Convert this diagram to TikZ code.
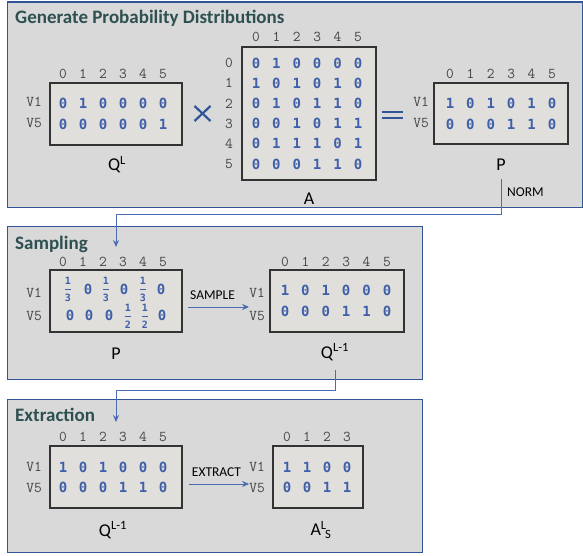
\documentclass[tikz,border=0pt]{standalone}
\usepackage{fontspec}
\setmainfont{Carlito}
\newfontfamily\digf{DejaVu Sans Mono}
\usetikzlibrary{arrows.meta}
\definecolor{panelfill}{HTML}{D9D9D9}
\definecolor{panelline}{HTML}{2F5597}
\definecolor{boxfill}{HTML}{E0DFDB}
\definecolor{boxline}{HTML}{333333}
\definecolor{digit}{HTML}{3F5FAA}
\definecolor{hdr}{HTML}{454545}
\definecolor{ttl}{HTML}{2E5050}
\definecolor{conncol}{HTML}{4A6CB4}
\newcommand\fr[2]{$\displaystyle{\mbox{\fontsize{10}{10}\selectfont\bfseries #1}\above 1.4pt\mbox{\fontsize{10}{10}\selectfont\bfseries #2}}$}
\begin{document}
\begin{tikzpicture}[x=1pt,y=-1pt,
  panel/.style={draw=panelline, fill=panelfill, line width=1.2pt, anchor=north west, inner sep=0},
  matbox/.style={draw=boxline, fill=boxfill, line width=2.4pt, inner sep=0},
  dig/.style={font=\digf\bfseries\fontsize{14}{14}\selectfont, text=digit, inner sep=0},
  frc/.style={font=\digf, text=digit, inner sep=0},
  hd/.style={font=\ttfamily\fontsize{15}{15}\selectfont, text=hdr, inner sep=0},
  ttlstyle/.style={font=\bfseries\fontsize{19}{19}\selectfont, text=ttl, anchor=base west, inner sep=0},
  lbl/.style={font=\fontsize{18}{18}\selectfont, inner sep=0},
  opname/.style={font=\fontsize{13.5}{14}\selectfont, inner sep=0},
  conn/.style={draw=conncol, line width=1pt},
  arr/.style={conn, -{Stealth[length=7pt,width=6pt]}},
  sym/.style={draw=panelline, line width=2.6pt}
]
\useasboundingbox (0,0) rectangle (583,556);

% ---------------- Panel 1 ----------------
\node[panel, minimum width=575pt, minimum height=205.5pt] (p1) at (7,1.5) {};
\node[ttlstyle] (t1) at (15,24) {Generate Probability Distributions};

% Q^L
\node[matbox, minimum width=132pt, minimum height=62pt] (qL) at (116,114) {};
\foreach \i in {0,...,5} \node[hd] (qLh\i) at ({63+20*\i},74) {\i};
\node[hd] (qLv1) at (34,102) {V1};
\node[hd] (qLv5) at (34,123) {V5};
\def\rowA{0,1,0,0,0,0}\def\rowB{0,0,0,0,0,1}
\foreach \v [count=\i from 0] in \rowA \node[dig] (qLa\i) at ({63+20*\i},103) {\v};
\foreach \v [count=\i from 0] in \rowB \node[dig] (qLb\i) at ({63+20*\i},124) {\v};
\node[lbl] (lblQL) at (117,165) {Q\textsuperscript{L}};

% times
\coordinate (x1) at (194.5,106);
\coordinate (x2) at (210.5,121);
\coordinate (x3) at (194.5,121);
\coordinate (x4) at (210.5,106);
\draw[sym, line width=2.2pt] (x1) -- (x2) (x3) -- (x4);

% A
\node[matbox, minimum width=134pt, minimum height=133pt] (mA) at (309,113.5) {};
\foreach \i in {0,...,5} \node[hd] (mAh\i) at ({256+20.4*\i},37) {\i};
\foreach \j in {0,...,5} \node[hd] (mAr\j) at (229,{63+20.2*\j}) {\j};
\foreach \rw [count=\j from 0] in {{0,1,0,0,0,0},{1,0,1,0,1,0},{0,1,0,1,1,0},{0,0,1,0,1,1},{0,1,1,1,0,1},{0,0,0,1,1,0}}{
  \foreach \v [count=\i from 0] in \rw \node[dig] (mA-\j-\i) at ({256+20.4*\i},{63+20.2*\j}) {\v};
}
\node[lbl] (lblA) at (309,199) {A};

% equals
\coordinate (e1) at (382,112.5);
\coordinate (e2) at (403,112.5);
\coordinate (e3) at (382,118.5);
\coordinate (e4) at (403,118.5);
\draw[sym, line width=2pt] (e1) -- (e2) (e3) -- (e4);

% P
\node[matbox, minimum width=134pt, minimum height=61pt] (mP) at (501,113.5) {};
\foreach \i in {0,...,5} \node[hd] (mPh\i) at ({450+20.4*\i},74) {\i};
\node[hd] (mPv1) at (421,102) {V1};
\node[hd] (mPv5) at (421,123) {V5};
\def\pA{1,0,1,0,1,0}\def\pB{0,0,0,1,1,0}
\foreach \v [count=\i from 0] in \pA \node[dig] (mPa\i) at ({450+20.4*\i},103) {\v};
\foreach \v [count=\i from 0] in \pB \node[dig] (mPb\i) at ({450+20.4*\i},124) {\v};
\node[lbl] (lblP) at (501,165) {P};

% ---------------- Panel 2 ----------------
\node[panel, minimum width=415pt, minimum height=153pt] (p2) at (7,226) {};
\node[ttlstyle] (t2) at (15,249) {Sampling};

\node[matbox, minimum width=132pt, minimum height=62pt] (sP) at (116,301) {};
\foreach \i in {0,...,5} \node[hd] (sPh\i) at ({63+20*\i},262) {\i};
\node[hd] (sPv1) at (34,293) {V1};
\node[hd] (sPv5) at (34,316) {V5};
\node[frc] (sPa0) at (68,289.5) {\fr{1}{3}};
\node[dig] (sPa1) at (88,289) {0};
\node[frc] (sPa2) at (106,289.5) {\fr{1}{3}};
\node[dig] (sPa3) at (124,289) {0};
\node[frc] (sPa4) at (143,289.5) {\fr{1}{3}};
\node[dig] (sPa5) at (161,289) {0};
\node[dig] (sPb0) at (70,315) {0};
\node[dig] (sPb1) at (89,315) {0};
\node[dig] (sPb2) at (109,315) {0};
\node[frc] (sPb3) at (128,316.5) {\fr{1}{2}};
\node[frc] (sPb4) at (145,316.5) {\fr{1}{2}};
\node[dig] (sPb5) at (162,315) {0};
\node[lbl] (lblsP) at (116,354) {P};

\node[opname] (sample) at (212.5,295) {SAMPLE};

\node[matbox, minimum width=134pt, minimum height=62pt] (sQ) at (337,301) {};
\foreach \i in {0,...,5} \node[hd] (sQh\i) at ({285+20.4*\i},262) {\i};
\node[hd] (sQv1) at (257,293) {V1};
\node[hd] (sQv5) at (257,316) {V5};
\def\qA{1,0,1,0,0,0}\def\qB{0,0,0,1,1,0}
\foreach \v [count=\i from 0] in \qA \node[dig] (sQa\i) at ({285+20.4*\i},290) {\v};
\foreach \v [count=\i from 0] in \qB \node[dig] (sQb\i) at ({285+20.4*\i},311) {\v};
\node[lbl] (lblQ2) at (335,352) {Q\textsuperscript{L-1}};

\draw[arr] (sP.east |- 0,307) ++(5,0) coordinate (sa1) (sa1) -- (sa1 -| sQv5.west) ;

% ---------------- Panel 3 ----------------
\node[panel, minimum width=415pt, minimum height=153pt] (p3) at (7,399) {};
\node[ttlstyle] (t3) at (15,421) {Extraction};

\node[matbox, minimum width=132pt, minimum height=62pt] (eQ) at (116,477) {};
\foreach \i in {0,...,5} \node[hd] (eQh\i) at ({63+20*\i},437) {\i};
\node[hd] (eQv1) at (34,467) {V1};
\node[hd] (eQv5) at (34,488) {V5};
\foreach \v [count=\i from 0] in \qA \node[dig] (eQa\i) at ({63+20*\i},467) {\v};
\foreach \v [count=\i from 0] in \qB \node[dig] (eQb\i) at ({63+20*\i},487) {\v};
\node[lbl] (lblQ3) at (113,530) {Q\textsuperscript{L-1}};

\node[opname] (extract) at (216.5,472) {EXTRACT};

\node[matbox, minimum width=90pt, minimum height=62pt] (eA) at (318,477) {};
\foreach \i in {0,...,3} \node[hd] (eAh\i) at ({287+20*\i},437) {\i};
\node[hd] (eAv1) at (257,467) {V1};
\node[hd] (eAv5) at (257,488) {V5};
\def\aA{1,1,0,0}\def\aB{0,0,1,1}
\foreach \v [count=\i from 0] in \aA \node[dig] (eAa\i) at ({287+20*\i},467) {\v};
\foreach \v [count=\i from 0] in \aB \node[dig] (eAb\i) at ({287+20*\i},487) {\v};
\node[lbl] (lblAS) at (321,530) {A\textsuperscript{L}\kern-1.5pt\textsubscript{S}};

\draw[arr] (eQ.east |- 0,484) ++(6,0) coordinate (ea1) (ea1) -- (ea1 -| eAv5.west);

% ---------------- connectors ----------------
\coordinate (bend1) at (116,214);
\coordinate (tip1) at (116,247);
\draw[arr, shorten <=8pt] (lblP.south) |- (bend1) -- (tip1);
\node[opname, anchor=west] (norm) at (507,192) {NORM};

\coordinate (bend2) at (116,390);
\coordinate (tip2) at (116,422);
\draw[arr, shorten <=9pt] (lblQ2.south) |- (bend2) -- (tip2);
\end{tikzpicture}
\end{document}
